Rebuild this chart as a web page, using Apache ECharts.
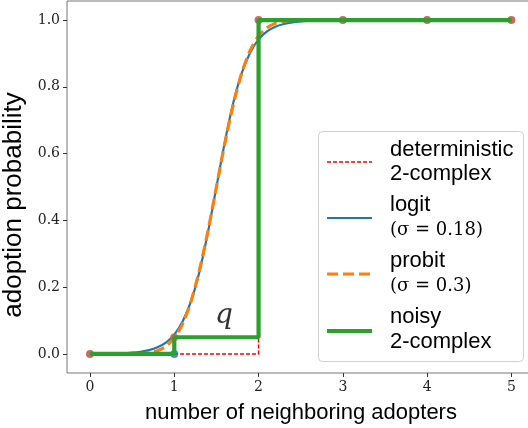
<!DOCTYPE html>
<html>
<head>
<meta charset="utf-8">
<script src="https://cdn.jsdelivr.net/npm/echarts@6/dist/echarts.min.js"></script>
<style>html,body{margin:0;padding:0;background:#fff}#c{width:528px;height:428px}</style>
</head>
<body>
<div id="c"></div>
<script>
// ---- data ----
var xTicks = [0, 1, 2, 3, 4, 5];
var yTicks = [0, 0.2, 0.4, 0.6, 0.8, 1.0];

var detX = [0, 2, 2, 5];
var detY = [0, 0, 1, 1];

var curveX = [0, 0.4, 0.5, 0.6, 0.7, 0.8, 0.9, 1.0, 1.1, 1.2, 1.3, 1.4, 1.5, 1.6, 1.7, 1.8, 1.9, 2.0, 2.1, 2.2, 2.3, 2.4, 2.5, 2.6, 3, 4, 5];
var logitY = [0.0002, 0.0022, 0.0039, 0.0067, 0.0116, 0.020, 0.034, 0.058, 0.098, 0.159, 0.248, 0.365, 0.5, 0.635, 0.752, 0.841, 0.902, 0.942, 0.966, 0.980, 0.988, 0.993, 0.996, 0.998, 0.9998, 1.0, 1.0];
var probitY = [0.0, 0.0001, 0.0004, 0.0013, 0.0038, 0.0098, 0.0228, 0.048, 0.091, 0.159, 0.253, 0.369, 0.5, 0.631, 0.747, 0.841, 0.909, 0.952, 0.977, 0.990, 0.996, 0.9987, 0.9996, 0.9999, 1.0, 1.0, 1.0];

var noisyX = [0, 1, 1, 2, 2, 5];
var noisyY = [0, 0, 0.05, 0.05, 1, 1];

var markX = [0, 1, 1, 2, 3, 4, 5];
var markY = [0, 0, 0.05, 1, 1, 1, 1];
var markC = ['#c0433a', '#1f77b4', '#d9602e', '#c0433a', '#c0433a', '#c0433a', '#c0433a'];

var qX = [1.59];
var qY = [0.115];

function zip(a, b) { return a.map(function (v, i) { return [v, b[i]]; }); }

var chart = echarts.init(document.getElementById('c'), null, {renderer: 'canvas'});
var serif = '"DejaVu Serif", serif';
var sans = '"Liberation Sans", Arial, sans-serif';

var option = {
  animation: false,
  backgroundColor: '#fff',
  grid: {left: 67, top: 1, width: 468, height: 372, show: true, borderColor: '#777', borderWidth: 1,
    backgroundColor: 'transparent', containLabel: false, outerBoundsMode: 'none'},
  xAxis: {
    type: 'value', min: -0.273, max: 5.28,
    axisLine: {show: false, onZero: false},
    splitLine: {show: false},
    axisTick: {show: true, length: 4, lineStyle: {color: '#333'}, customValues: xTicks},
    axisLabel: {customValues: xTicks, fontFamily: serif, fontSize: 14, color: '#222', margin: 7},
    name: 'number of neighboring adopters', nameLocation: 'middle', nameGap: 29,
    nameTextStyle: {fontFamily: sans, fontSize: 22, color: '#000'}
  },
  yAxis: {
    type: 'value', min: -0.057, max: 1.057,
    axisLine: {show: false, onZero: false},
    splitLine: {show: false},
    axisTick: {show: true, length: 4, lineStyle: {color: '#333'}, customValues: yTicks},
    axisLabel: {customValues: yTicks, fontFamily: serif, fontSize: 14, color: '#222', margin: 7,
      formatter: function (v) { return v.toFixed(1); }},
    name: 'adoption probability', nameLocation: 'middle', nameGap: 40,
    nameTextStyle: {fontFamily: sans, fontSize: 26, color: '#000', padding: [0, 36, 0, 0]}
  },
  series: [
    {name: 'deterministic', type: 'line', data: zip(detX, detY), symbol: 'none', z: 2,
      lineStyle: {color: '#ff0000', width: 1.5, type: [4, 2]}},
    {name: 'logit', type: 'line', data: zip(curveX, logitY), symbol: 'none', smooth: 0.3, z: 3,
      lineStyle: {color: '#1f77b4', width: 2.2}},
    {name: 'probit', type: 'line', data: zip(curveX, probitY), symbol: 'none', smooth: 0.3, z: 4,
      lineStyle: {color: '#ff7f0e', width: 3.2, type: [11, 5]}},
    {name: 'markers', type: 'scatter', z: 5, symbolSize: 8,
      data: markX.map(function (x, i) { return {value: [x, markY[i]], itemStyle: {color: markC[i]}}; })},
    {name: 'noisy', type: 'line', data: zip(noisyX, noisyY), symbol: 'none', z: 6,
      lineStyle: {color: '#2ca02c', width: 4.2}},
    {name: 'q', type: 'scatter', z: 7, symbolSize: 0, data: zip(qX, qY),
      label: {show: true, position: 'inside', formatter: 'q', fontFamily: '"DejaVu Serif", serif', fontStyle: 'italic', fontSize: 28, color: '#000'}}
  ],
  graphic: [
    {type: 'rect', z: 100, shape: {x: 318.5, y: 131.5, width: 205, height: 230, r: 4},
      style: {fill: 'rgba(255,255,255,0.85)', stroke: '#d0d0d0', lineWidth: 1}},
    {type: 'line', z: 101, shape: {x1: 327, y1: 162, x2: 372, y2: 162}, style: {stroke: '#ff0000', lineWidth: 1.5, lineDash: [4, 2]}},
    {type: 'line', z: 101, shape: {x1: 327, y1: 218, x2: 372, y2: 218}, style: {stroke: '#1f77b4', lineWidth: 2.2}},
    {type: 'line', z: 101, shape: {x1: 327, y1: 274, x2: 372, y2: 274}, style: {stroke: '#ff7f0e', lineWidth: 3.2, lineDash: [11, 5]}},
    {type: 'line', z: 101, shape: {x1: 327, y1: 331, x2: 372, y2: 331}, style: {stroke: '#2ca02c', lineWidth: 4.2}},
    {type: 'text', z: 101, x: 390, y: 150, style: {text: 'deterministic', font: '22px ' + sans, fill: '#000', verticalAlign: 'middle'}},
    {type: 'text', z: 101, x: 390, y: 174, style: {text: '2-complex', font: '22px ' + sans, fill: '#000', verticalAlign: 'middle'}},
    {type: 'text', z: 101, x: 390, y: 205, style: {text: 'logit', font: '22px ' + sans, fill: '#000', verticalAlign: 'middle'}},
    {type: 'text', z: 101, x: 390, y: 230, style: {text: '(σ = 0.18)', font: '18px ' + serif, fill: '#000', verticalAlign: 'middle'}},
    {type: 'text', z: 101, x: 390, y: 261, style: {text: 'probit', font: '22px ' + sans, fill: '#000', verticalAlign: 'middle'}},
    {type: 'text', z: 101, x: 390, y: 286, style: {text: '(σ = 0.3)', font: '18px ' + serif, fill: '#000', verticalAlign: 'middle'}},
    {type: 'text', z: 101, x: 390, y: 317, style: {text: 'noisy', font: '22px ' + sans, fill: '#000', verticalAlign: 'middle'}},
    {type: 'text', z: 101, x: 390, y: 342, style: {text: '2-complex', font: '22px ' + sans, fill: '#000', verticalAlign: 'middle'}}
  ]
};
chart.setOption(option);
</script>
</body>
</html>
